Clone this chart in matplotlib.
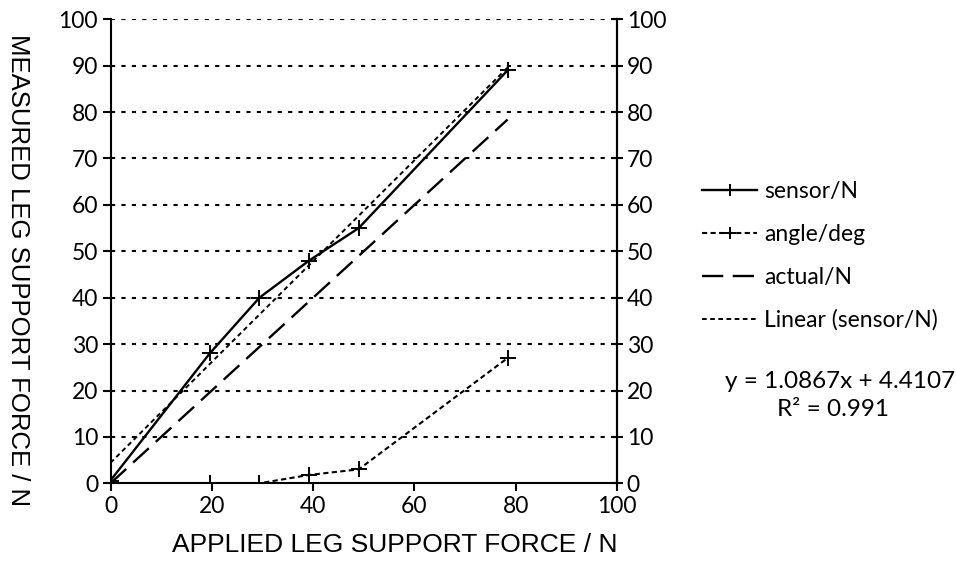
import numpy as np
import matplotlib
matplotlib.use("Agg")
import matplotlib.pyplot as plt

# Data
applied = [0, 19.6, 29.4, 39.2, 49.0, 78.4]
sensor = [0.6, 28.0, 40.0, 48.0, 55.0, 89.0]
angle = [0, 0, 0, 1.8, 3.0, 27.0]
actual = [0, 19.6, 29.4, 39.2, 49.0, 78.4]
trend_slope = 1.0867
trend_intercept = 4.4107
r_squared = 0.991
xticks = [0, 20, 40, 60, 80, 100]
yticks = [0, 10, 20, 30, 40, 50, 60, 70, 80, 90, 100]

tick_font = "Lato"
label_font = "Liberation Sans"

fig = plt.figure(figsize=(9.56, 5.61), dpi=100)
ax = fig.add_axes([110.5 / 956, 1 - 483.3 / 561, (617 - 110.5) / 956, (483.3 - 19.3) / 561])

for y in yticks[1:]:
    ax.axhline(y, color="black", lw=1.5, ls=(0, (2.0, 3.0)), zorder=1)

tx = np.array([applied[0], applied[-1]])
l1, = ax.plot(applied, sensor, color="black", lw=1.7, marker="+", ms=11, mew=1.4, zorder=3, label="sensor/N")
l2, = ax.plot(applied, angle, color="black", lw=1.5, ls=(0, (2.5, 1.6)), marker="+", ms=11, mew=1.4, zorder=3, label="angle/deg")
l3, = ax.plot(applied, actual, color="black", lw=1.7, ls=(0, (9, 4)), zorder=3, label="actual/N")
l4, = ax.plot(tx, trend_slope * tx + trend_intercept, color="black", lw=1.4, ls=(0, (2.4, 1.8)), zorder=2, label="Linear (sensor/N)")

ax.set_xlim(0, 100)
ax.set_ylim(0, 100)
ax.set_xticks(xticks)
ax.set_yticks(yticks)
ax.spines["top"].set_visible(False)
for s in ["left", "bottom", "right"]:
    ax.spines[s].set_linewidth(1.5)
ax.tick_params(axis="both", direction="out", length=6, width=1.5, labelsize=16.5, pad=3)
for lab in ax.get_xticklabels() + ax.get_yticklabels():
    lab.set_fontfamily(tick_font)

ax2 = ax.twinx()
ax2.set_ylim(0, 100)
ax2.set_yticks(yticks)
for s in ["top", "left", "bottom"]:
    ax2.spines[s].set_visible(False)
ax2.spines["right"].set_linewidth(1.5)
ax2.tick_params(axis="y", direction="inout", length=8, width=1.5, labelsize=16.5, pad=3)
for lab in ax2.get_yticklabels():
    lab.set_fontfamily(tick_font)

fig.text(395 / 956, 1 - 545 / 561, "APPLIED LEG SUPPORT FORCE / N", fontfamily=label_font,
         fontsize=19, ha="center", va="center")
fig.text(18 / 956, 1 - 270 / 561, "MEASURED LEG SUPPORT FORCE / N", rotation=270,
         fontfamily=label_font, fontsize=18.5, ha="center", va="center")

leg = fig.legend(handles=[l1, l2, l3, l4], loc="upper left", bbox_to_anchor=(693 / 956, 1 - 172 / 561),
                 frameon=False, prop={"family": tick_font, "size": 16.5}, handlelength=2.4,
                 labelspacing=0.95, handletextpad=0.3, borderaxespad=0, markerscale=0.8)

fig.text(840 / 956, 1 - 381 / 561, f"y = {trend_slope}x + {trend_intercept}", fontfamily=tick_font,
         fontsize=17.5, ha="center", va="center")
fig.text(833 / 956, 1 - 409 / 561, f"R² = {r_squared}", fontfamily=tick_font,
         fontsize=17.5, ha="center", va="center")

fig.savefig("out.png", dpi=100)
